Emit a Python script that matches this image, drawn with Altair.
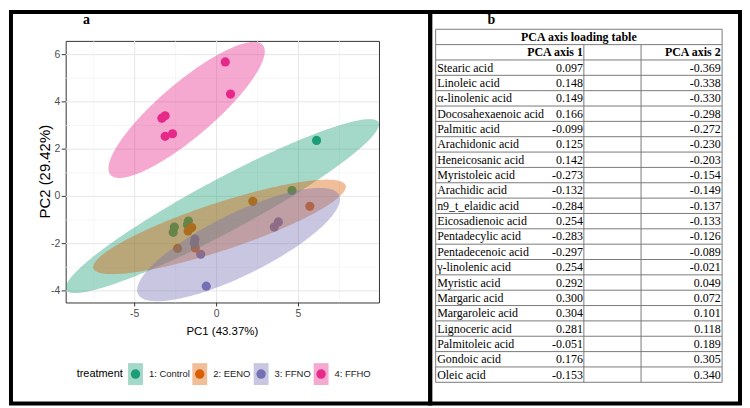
import numpy as np
import pandas as pd
import altair as alt

# ---------------- data ----------------
treatments = ["1: Control", "2: EENO", "3: FFNO", "4: FFHO"]
colors = ["#1B9E77", "#D95F02", "#7570B3", "#E7298A"]

pc1_control = [6.10, 4.60, -2.58, -2.65, -1.72, -1.78]
pc2_control = [2.37, 0.25, -1.30, -1.52, -1.04, -1.20]
pc1_eeno = [2.21, 5.69, -2.38, -1.30, -1.52, -1.74]
pc2_eeno = [-0.21, -0.42, -2.20, -2.18, -1.32, -1.46]
pc1_ffno = [-0.63, -0.97, -1.32, 3.77, 3.52, -1.36]
pc2_ffno = [-3.80, -2.45, -1.81, -1.08, -1.30, -1.97]
pc1_ffho = [0.53, 0.85, -3.34, -3.14, -3.14, -2.69]
pc2_ffho = [5.69, 4.33, 3.31, 3.41, 2.54, 2.65]

# confidence ellipses: centre, half extents, correlation
ell_cx = [0.35, 0.18, 1.34, -1.83]
ell_cy = [-0.41, -1.29, -2.04, 3.66]
ell_sx = [9.56, 7.71, 6.19, 4.77]
ell_sy = [3.68, 2.00, 2.40, 2.88]
ell_rho = [0.94, 0.85, 0.80, 0.86]

x_ticks = [-5, 0, 5]
y_ticks = [-4, -2, 0, 2, 4, 6]
x_minor = [-7.5, -2.5, 2.5, 7.5]
y_minor = [-3, -1, 1, 3, 5]
x_domain = [-9.21, 9.91]
y_domain = [-4.49, 6.58]
x_title = "PC1 (43.37%)"
y_title = "PC2 (29.42%)"

acids = ["Stearic acid", "Linoleic acid", "\u03b1-linolenic acid", "Docosahexaenoic acid",
         "Palmitic acid", "Arachidonic acid", "Heneicosanic acid", "Myristoleic acid",
         "Arachidic acid", "n9_t_elaidic acid", "Eicosadienoic acid", "Pentadecylic acid",
         "Pentadecenoic acid", "\u03b3-linolenic acid", "Myristic acid", "Margaric acid",
         "Margaroleic acid", "Lignoceric acid", "Palmitoleic acid", "Gondoic acid", "Oleic acid"]
pca_axis1 = [0.097, 0.148, 0.149, 0.166, -0.099, 0.125, 0.142, -0.273, -0.132, -0.284, 0.254,
             -0.283, -0.297, 0.254, 0.292, 0.300, 0.304, 0.281, -0.051, 0.176, -0.153]
pca_axis2 = [-0.369, -0.338, -0.330, -0.298, -0.272, -0.230, -0.203, -0.154, -0.149, -0.137,
             -0.133, -0.126, -0.089, -0.021, 0.049, 0.072, 0.101, 0.118, 0.189, 0.305, 0.340]

# ---------------- tables for the library ----------------
groups = [(pc1_control, pc2_control), (pc1_eeno, pc2_eeno), (pc1_ffno, pc2_ffno), (pc1_ffho, pc2_ffho)]
pts = pd.DataFrame([
    {"treatment": t, "pc1": a, "pc2": b}
    for t, (xs_, ys_) in zip(treatments, groups) for a, b in zip(xs_, ys_)
])

tt = np.linspace(0, np.pi, 181)
ell_rows = []
for t, cx, cy, sx, sy, rho in zip(treatments, ell_cx, ell_cy, ell_sx, ell_sy, ell_rho):
    q = np.sqrt(1 - rho ** 2)
    for v in tt:
        ell_rows.append({
            "treatment": t,
            "ex": cx + sx * np.cos(v),
            "yu": cy + sy * (rho * np.cos(v) + q * np.sin(v)),
            "yl": cy + sy * (rho * np.cos(v) - q * np.sin(v)),
        })
ell = pd.DataFrame(ell_rows)

SANS = "Liberation Sans"
SERIF = "Liberation Serif"

W, H = 315, 263
xs = alt.Scale(domain=x_domain, nice=False, zero=False)
ys = alt.Scale(domain=y_domain, nice=False, zero=False)
cs = alt.Scale(domain=treatments, range=colors)

xt = pd.DataFrame({"v": x_ticks, "lab": [str(v) for v in x_ticks]})
yt = pd.DataFrame({"v": y_ticks, "lab": [str(v) for v in y_ticks]})

def X(f):
    return alt.X(f, scale=xs, axis=None)

def Y(f):
    return alt.Y(f, scale=ys, axis=None)

# grid (major + minor)
minor_gx = alt.Chart(pd.DataFrame({"v": x_minor})).mark_rule(color="#F0F0F0", strokeWidth=0.6).encode(x=X("v:Q"))
minor_gy = alt.Chart(pd.DataFrame({"v": y_minor})).mark_rule(color="#F0F0F0", strokeWidth=0.6).encode(y=Y("v:Q"))
major_gx = alt.Chart(xt).mark_rule(color="#E6E6E6", strokeWidth=1).encode(x=X("v:Q"))
major_gy = alt.Chart(yt).mark_rule(color="#E6E6E6", strokeWidth=1).encode(y=Y("v:Q"))

# ticks and labels
tick_x = alt.Chart(xt).mark_rule(color="#333333", strokeWidth=1).encode(
    x=X("v:Q"), y=alt.value(H), y2=alt.value(H + 4))
tick_y = alt.Chart(yt).mark_rule(color="#333333", strokeWidth=1).encode(
    y=Y("v:Q"), x=alt.value(-4), x2=alt.value(0))
lab_x = alt.Chart(xt).mark_text(font=SANS, fontSize=10.5, color="#4D4D4D", align="center",
                                baseline="top").encode(x=X("v:Q"), y=alt.value(H + 6.5), text="lab:N")
lab_y = alt.Chart(yt).mark_text(font=SANS, fontSize=10.5, color="#4D4D4D", align="right",
                                baseline="middle").encode(y=Y("v:Q"), x=alt.value(-5.5), text="lab:N")
one = pd.DataFrame({"k": [0]})
title_x = alt.Chart(one).mark_text(text=x_title, font=SANS, fontSize=11.5, color="black",
                                   align="center", baseline="middle").encode(
    x=alt.value(W / 2), y=alt.value(H + 29.7))
title_y = alt.Chart(one).mark_text(text=y_title, font=SANS, fontSize=15, color="black", angle=270,
                                   align="center", baseline="middle").encode(
    x=alt.value(-21), y=alt.value(H / 2))

points = alt.Chart(pts).mark_circle(size=85, opacity=1).encode(
    x=X("pc1:Q"), y=Y("pc2:Q"),
    color=alt.Color("treatment:N", scale=cs, legend=None),
)

ellipses = alt.Chart(ell).mark_area(opacity=0.4, clip=True).encode(
    x=X("ex:Q"),
    y=alt.Y("yu:Q", scale=ys, axis=None, stack=None),
    y2="yl:Q",
    color=alt.Color("treatment:N", scale=cs, legend=None),
)

frame_left = alt.Chart(one).mark_rect(fillOpacity=0, stroke="black", strokeWidth=4).encode(
    x=alt.value(-55), x2=alt.value(366.5), y=alt.value(-29), y2=alt.value(364.5))
label_a = alt.Chart(one).mark_text(text="a", font=SERIF, fontWeight="bold", fontSize=14,
                                   baseline="middle", color="black").encode(
    x=alt.value(21), y=alt.value(-21.5))

left = alt.layer(minor_gx, minor_gy, major_gx, major_gy, points, ellipses,
                 tick_x, tick_y, lab_x, lab_y, title_x, title_y, frame_left, label_a).properties(
    width=W, height=H, view=alt.ViewBackground(stroke="#333333", strokeWidth=1))

# ---------------- legend row (its own small chart under the plot) ----------------
leg = pd.DataFrame({"treatment": treatments, "slot": list(range(len(treatments)))})
slot_scale = alt.Scale(domain=[0, 1, 2, 3], range=[70.2, 134.8, 196.5, 256.8])
BOX = "M-0.68,-1L0.68,-1L0.68,1L-0.68,1Z"
LH = 20
key_box = alt.Chart(leg).mark_point(shape=BOX, size=484, filled=True, opacity=0.4, strokeWidth=0).encode(
    x=alt.X("slot:Q", scale=slot_scale, axis=None), y=alt.value(LH / 2),
    color=alt.Color("treatment:N", scale=cs, legend=None))
key_dot = alt.Chart(leg).mark_circle(size=90, opacity=1).encode(
    x=alt.X("slot:Q", scale=slot_scale, axis=None), y=alt.value(LH / 2),
    color=alt.Color("treatment:N", scale=cs, legend=None))
key_txt = alt.Chart(leg).mark_text(align="left", baseline="middle", dx=13.5, font=SANS,
                                   fontSize=9.5, color="#1a1a1a").encode(
    x=alt.X("slot:Q", scale=slot_scale, axis=None), y=alt.value(LH / 2), text="treatment:N")
leg_title = alt.Chart(one).mark_text(text="treatment", align="left", baseline="middle", font=SANS,
                                     fontSize=11, color="black").encode(
    x=alt.value(11), y=alt.value(LH / 2))
legend_chart = alt.layer(key_box, key_dot, key_txt, leg_title).properties(width=W, height=LH)

# ---------------- table panel ----------------
n = len(acids)
tab = pd.DataFrame({
    "acid": acids,
    "v1": [f"{v:.3f}" for v in pca_axis1],
    "v2": [f"{v:.3f}" for v in pca_axis2],
    "rc": [i + 2.5 for i in range(n)],
})
ry = alt.Scale(domain=[0.758, 17.80], reverse=True, zero=False, nice=False)
LINE = "#7a7a7a"
T_L, C1, C2, T_R = 5.5, 154.5, 212, 293.5

hlines = alt.Chart(pd.DataFrame({"r": list(range(n + 3))})).mark_rule(color=LINE, strokeWidth=1).encode(
    y=alt.Y("r:Q", scale=ry, axis=None), x=alt.value(T_L), x2=alt.value(T_R))
vl = []
for xv, top in [(T_L, 0), (T_R, 0), (C1, 1), (C2, 1)]:
    vl.append(alt.Chart(pd.DataFrame({"r0": [top], "r1": [n + 2]})).mark_rule(color=LINE, strokeWidth=1).encode(
        x=alt.value(xv), y=alt.Y("r0:Q", scale=ry, axis=None), y2="r1:Q"))

tf = dict(font=SERIF, fontSize=12, color="black", baseline="middle")
names = alt.Chart(tab).mark_text(align="left", **tf).encode(
    x=alt.value(T_L + 1.5), y=alt.Y("rc:Q", scale=ry, axis=None), text="acid:N")
col1 = alt.Chart(tab).mark_text(align="right", **tf).encode(
    x=alt.value(C1 - 1), y=alt.Y("rc:Q", scale=ry, axis=None), text="v1:N")
col2 = alt.Chart(tab).mark_text(align="right", **tf).encode(
    x=alt.value(T_R - 1.5), y=alt.Y("rc:Q", scale=ry, axis=None), text="v2:N")

heads = pd.DataFrame({"rc": [1.5], "h1": ["PCA axis 1"], "h2": ["PCA axis 2"],
                      "t": ["PCA axis loading table"], "r0": [0.5]})
tb = dict(font=SERIF, fontSize=12, fontWeight="bold", color="black", baseline="middle")
title_t = alt.Chart(heads).mark_text(align="center", **tb).encode(
    x=alt.value((T_L + T_R) / 2), y=alt.Y("r0:Q", scale=ry, axis=None), text="t:N")
head1 = alt.Chart(heads).mark_text(align="right", **tb).encode(
    x=alt.value(C1 - 1), y=alt.Y("rc:Q", scale=ry, axis=None), text="h1:N")
head2 = alt.Chart(heads).mark_text(align="right", **tb).encode(
    x=alt.value(T_R - 1.5), y=alt.Y("rc:Q", scale=ry, axis=None), text="h2:N")

frame_right = alt.Chart(one).mark_rect(fillOpacity=0, stroke="black", strokeWidth=4).encode(
    x=alt.value(0), x2=alt.value(311.5), y=alt.value(-29), y2=alt.value(364.5))
label_b = alt.Chart(one).mark_text(text="b", font=SERIF, fontWeight="bold", fontSize=14,
                                   baseline="middle", color="black").encode(
    x=alt.value(61.5), y=alt.value(-21.5))

right = alt.layer(hlines, *vl, names, col1, col2, title_t, head1, head2, frame_right, label_b).properties(
    width=311.5, height=H)

chart = alt.concat(left, right, legend_chart, columns=2,
                   spacing=alt.RowColnumber(row=325 - H, column=51.5),
                   bounds="flush").properties(padding=0).configure_view(strokeWidth=0)

chart.save("out.html", embed_options={"renderer": "svg", "actions": False})
